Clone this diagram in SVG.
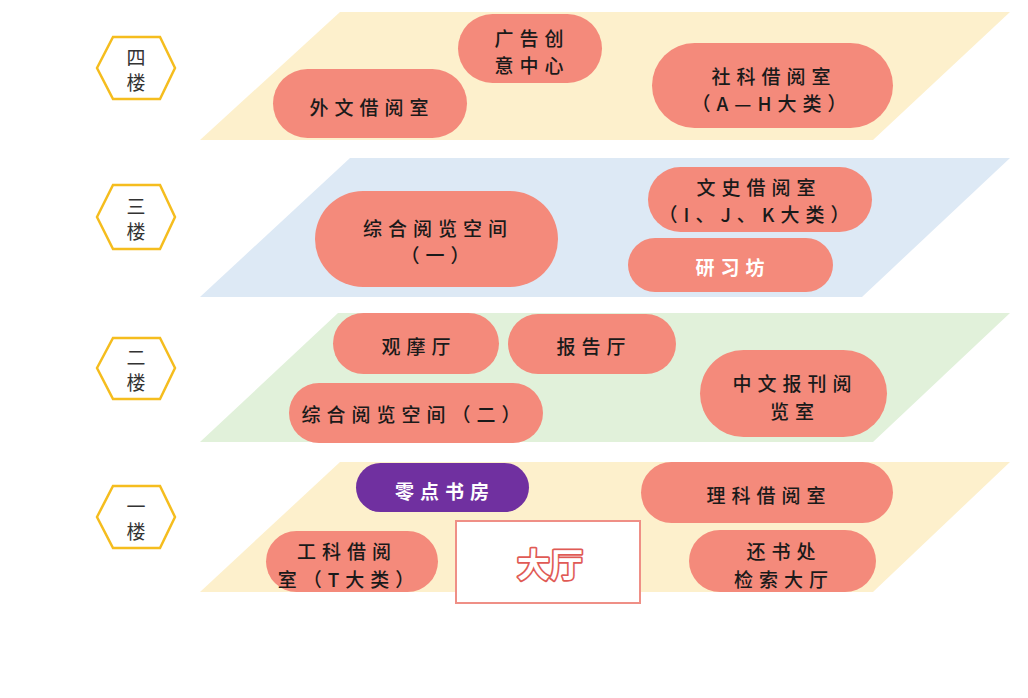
<svg xmlns="http://www.w3.org/2000/svg" width="1028" height="698" viewBox="0 0 1028 698">
<style>
.yl{fill:#fdf0cc}
.bl{fill:#dde9f5}
.gr{fill:#e1f1da}
.hex{fill:#fff;stroke:#f5bd1e;stroke-width:2.5}
.hx{font-family:"Noto Sans CJK SC",sans-serif;font-size:19px;fill:#333;text-anchor:middle;dominant-baseline:central}
.pill{fill:#f48a7b}
.pur{fill:#7030a0}
.t{font-family:"Noto Sans CJK SC",sans-serif;font-size:19px;font-weight:500;fill:#1a1a1a;text-anchor:middle;dominant-baseline:central;letter-spacing:6px}
.w{fill:#fff;font-weight:bold}
.hall{fill:#fff;stroke:#ef8f86;stroke-width:2}
.big{font-family:"Noto Sans CJK SC",sans-serif;font-size:33px;font-weight:bold;text-anchor:middle;dominant-baseline:central}
.bo{fill:#e05a55;stroke:#e05a55;stroke-width:3.5;stroke-linejoin:round}
.bi{fill:#fff}
</style>
<rect width="1028" height="698" fill="#fff"/>
<g id="floors">
<polygon class="yl" points="340,12 1010,12 873,140 200,140"/>
<polygon class="bl" points="350,158 1010,158 862,297 200,297"/>
<polygon class="gr" points="338,313 1010,313 873,442 200,442"/>
<polygon class="yl" points="340,462 1010,462 873,592 200,592"/>
</g>
<g id="label4"><polygon class="hex" points="97,68 113,37 160,37 175,68 160,99 113,99"/><text class="hx" x="136" y="56">四</text><text class="hx" x="136" y="81">楼</text></g>
<g id="label3"><polygon class="hex" points="97,217 113,185 160,185 175,217 160,249 113,249"/><text class="hx" x="136" y="205">三</text><text class="hx" x="136" y="230">楼</text></g>
<g id="label2"><polygon class="hex" points="97,368 113,338 160,338 175,368 160,399 113,399"/><text class="hx" x="136" y="356">二</text><text class="hx" x="136" y="381">楼</text></g>
<g id="label1"><polygon class="hex" points="97,517 113,486 160,486 175,517 160,548 113,548"/><text class="hx" x="136" y="505">一</text><text class="hx" x="136" y="530">楼</text></g>

<g id="n-waiwen"><rect class="pill" x="273" y="69" width="194" height="69" rx="34.5"/><text class="t" x="372" y="106">外文借阅室</text></g>
<g id="n-guanggao"><rect class="pill" x="458" y="14" width="144" height="69" rx="34.5"/><text class="t" x="532" y="37">广告创</text><text class="t" x="532" y="64">意中心</text></g>
<g id="n-sheke"><rect class="pill" x="652" y="43" width="241" height="85" rx="42.5"/><text class="t" x="774" y="75">社科借阅室</text><text class="t" x="772" y="102" letter-spacing="1">（A—H大类）</text></g>

<g id="n-zonghe1"><rect class="pill" x="315" y="191" width="243" height="96" rx="48"/><text class="t" x="438" y="227">综合阅览空间</text><text class="t" x="438" y="254">（一）</text></g>
<g id="n-wenshi"><rect class="pill" x="648" y="167" width="224" height="65" rx="32.5"/><text class="t" x="759" y="186">文史借阅室</text><text class="t" x="757" y="213" letter-spacing="0">（I、J、K大类）</text></g>
<g id="n-yanxi"><rect class="pill" x="628" y="238" width="205" height="54" rx="27"/><text class="t w" x="733" y="266">研习坊</text></g>

<g id="n-guanmo"><rect class="pill" x="333" y="313" width="166" height="61" rx="30.5"/><text class="t" x="419" y="345">观摩厅</text></g>
<g id="n-baogao"><rect class="pill" x="508" y="314" width="168" height="60" rx="30"/><text class="t" x="594" y="345">报告厅</text></g>
<g id="n-zonghe2"><rect class="pill" x="289" y="383" width="254" height="60" rx="30"/><text class="t" x="414" y="413" letter-spacing="5">综合阅览空间（二）</text></g>
<g id="n-baokan"><rect class="pill" x="700" y="350" width="187" height="87" rx="43.5"/><text class="t" x="795" y="382">中文报刊阅</text><text class="t" x="795" y="410">览室</text></g>

<g id="n-lingdian"><rect class="pur" x="356" y="463" width="173" height="49" rx="24.5"/><text class="t w" x="445" y="490">零点书房</text></g>
<g id="n-gongke"><rect class="pill" x="266" y="531" width="172" height="61" rx="30.5"/><text class="t" x="347" y="550">工科借阅</text><text class="t" x="349" y="578" letter-spacing="2">室（T大类）</text></g>
<g id="n-dating"><rect class="hall" x="456" y="521" width="184" height="82"/><text class="big bo" x="550" y="563">大厅</text><text class="big bi" x="550" y="563">大厅</text></g>
<g id="n-like"><rect class="pill" x="641" y="462" width="252" height="61" rx="30.5"/><text class="t" x="769" y="494">理科借阅室</text></g>
<g id="n-huanshu"><rect class="pill" x="689" y="530" width="187" height="62" rx="31"/><text class="t" x="784" y="550">还书处</text><text class="t" x="784" y="578">检索大厅</text></g>
<g id="connectors"/>
</svg>
